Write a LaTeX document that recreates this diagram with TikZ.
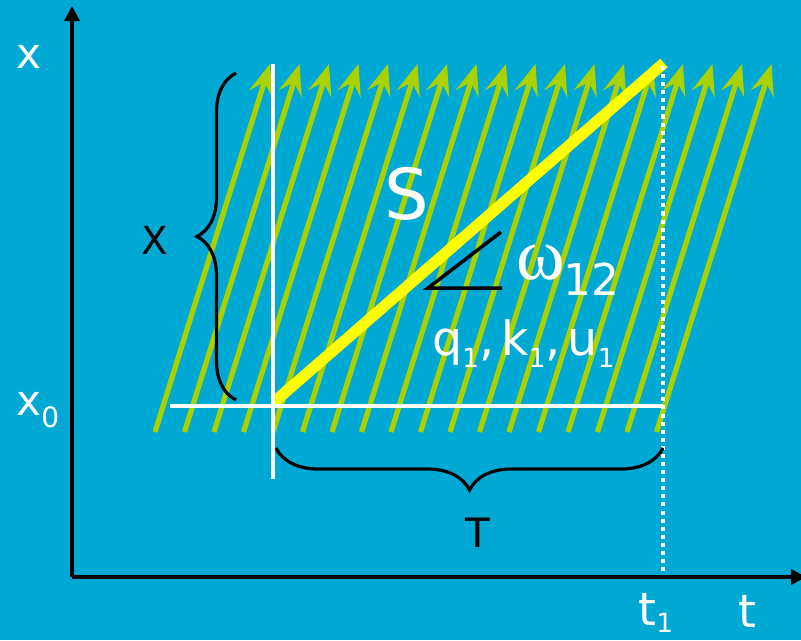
\documentclass[tikz,border=0pt]{standalone}
\usepackage{fontspec}
\setmainfont{DejaVu Sans}
\newfontfamily\greekfont{Liberation Serif}
\usetikzlibrary{arrows.meta,decorations.pathreplacing}
\definecolor{bgblue}{RGB}{0,168,212}
\definecolor{flowgreen}{RGB}{170,210,0}
\definecolor{shockyellow}{RGB}{255,255,0}
\newcommand\lowsub[3]{\raisebox{-#2}{\fontsize{#1}{#1}\selectfont #3}}
\begin{document}
\begin{tikzpicture}[
			x=0.02cm, y=-0.02cm,
			flow/.style={flowgreen, line width=3pt, -{Stealth[length=0.62cm, width=0.48cm, inset=0.24cm]}},
			axis/.style={black, line width=2.4pt, -{Triangle[length=0.3cm, width=0.3cm]}},
			guide/.style={white, line width=2.2pt},
			bracket/.style={black, line width=1.8pt, decorate},
			lbl/.style={inner sep=0pt, text=white}
			]
			\useasboundingbox (0,0) rectangle (801,640);
			\fill[bgblue] (0,0) rectangle (801,640);
			% Characteristic lines
			\foreach \i in {0,...,17}
				\draw[flow] (155+29.5*\i,432) -- (270+29.5*\i,64);
			
			% Coordinates
			\coordinate (O) at (72,577);
			\coordinate (ytop) at (72,6);
			\coordinate (xend) at (806,577);
			\coordinate (shockstart) at (274,402);
			\coordinate (shockend) at (664,63);
			\coordinate (vtop) at (273,64);
			\coordinate (vbot) at (273,479);
			\coordinate (hleft) at (170,406);
			\coordinate (hright) at (663,406);
			\coordinate (t1top) at (663,66);
			\coordinate (t1bot) at (663,577);
			\coordinate (angA) at (501,232);
			\coordinate (angB) at (428,288);
			\coordinate (angC) at (502,288);
			
			% Shock path
			\draw[shockyellow, line width=6.4pt] (shockstart) -- (shockend);
			\draw[guide] (vtop) -- (vbot);
			\draw[guide] (hleft) -- (hright);
			\draw[white, line width=2.3pt, dash pattern=on 2.3pt off 2.3pt] (t1top) -- (t1bot);
			
			% Axes
			\draw[axis] (O) -- (ytop);
			\draw[axis] (O) -- (xend);
			
			% Braces
			\draw[bracket, decoration={brace, amplitude=0.78cm}] (236,400) -- (236,73);
			\draw[bracket, decoration={brace, amplitude=0.84cm}] (663,448) -- (276,448);
			
			% Angle
			\draw[black, line width=2pt] (angA) -- (angB) -- (angC);
			
			% Labels
			\node[lbl, font=\fontsize{24}{24}\selectfont] (xlab) at (29,57) {x};
			\node[lbl, font=\fontsize{24}{24}\selectfont, anchor=base west] (x0lab) at (16,415) {x\lowsub{16}{7pt}{0}};
			\node[inner sep=0pt, font=\fontsize{22}{22}\selectfont] (Xlab) at (155,240) {X};
			\node[lbl, font=\fontsize{40}{40}\selectfont] (Slab) at (407,194) {S};
			\node[lbl, anchor=base west] (omega) at (516,279) {{\greekfont\fontsize{42}{42}\selectfont ω}\lowsub{25}{9.5pt}{\hspace{-1pt}12}};
			\node[lbl, anchor=base west, font=\fontsize{27}{27}\selectfont] (state) at (432,355) {q\lowsub{15}{7pt}{1},\hspace{4pt}k\lowsub{15}{7pt}{1},\hspace{4pt}u\lowsub{15}{7pt}{1}};
			\node[inner sep=0pt, font=\fontsize{23}{23}\selectfont] (Tlab) at (478,533) {T};
			\node[lbl, anchor=base west, font=\fontsize{26}{26}\selectfont] (t1lab) at (638,625) {t\lowsub{15}{4.5pt}{1}};
			\node[lbl, anchor=base west, font=\fontsize{26}{26}\selectfont] (tlab) at (738,627) {t};
		\end{tikzpicture}
\end{document}
